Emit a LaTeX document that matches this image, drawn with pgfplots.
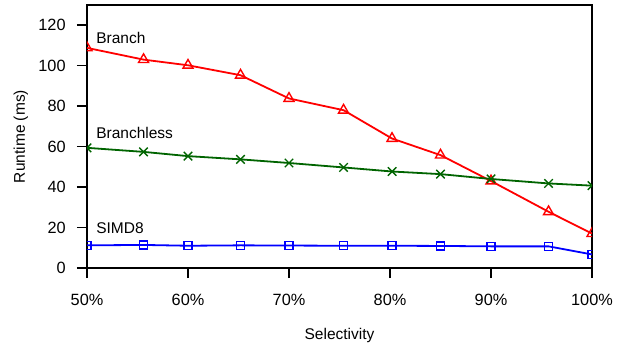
\documentclass[border=0pt]{standalone}
\usepackage{pgfplots}
\pgfplotsset{compat=1.18}
\usepackage{fontspec}
\setmainfont{Liberation Sans}
\definecolor{dgreen}{RGB}{0,100,0}
\begin{document}
\fontsize{15.5}{18}\selectfont
\begin{tikzpicture}
\useasboundingbox (-87pt,-80pt) rectangle (539pt,268pt);
\begin{axis}[
  at={(0,0)}, anchor=south west,
  scale only axis, width=505pt, height=263pt,
  xmin=50, xmax=100, ymin=0, ymax=130,
  xtick={50,60,70,80,90,100},
  xticklabels={50\%,60\%,70\%,80\%,90\%,100\%},
  ytick={0,20,40,60,80,100,120},
  tick align=outside, major tick length=10pt,
  xtick pos=bottom, ytick pos=left,
  axis line style={line width=1.6pt},
  every tick/.style={black, line width=1.6pt},
  /pgf/number format/assume math mode=true,
  ticklabel style={font=\fontsize{16.3}{18}\selectfont},
  xticklabel style={yshift=-11pt},
  yticklabel style={xshift=-6pt},
  xlabel={Selectivity}, ylabel={Runtime (ms)},
  xlabel style={at={(axis description cs:0.5,-0.255)}, anchor=center},
  ylabel style={at={(axis description cs:-0.131,0.5)}, anchor=center, rotate=0},
  clip marker paths=true,
  every axis plot/.append style={line width=1.8pt},
]
\addplot[red, mark=triangle, mark size=5.8pt, mark options={line width=1.4pt}] coordinates {
(50,108.8) (55.6,103) (60,100.2) (65.2,95.3) (70,83.8) (75.4,78) (80.2,64) (85,55.8) (90,43) (95.7,27.8) (100,17)};
\addplot[dgreen, mark=x, mark size=6pt, mark options={line width=1.4pt}] coordinates {
(50,59.4) (55.6,57.4) (60,55.3) (65.2,53.7) (70,51.9) (75.4,49.7) (80.2,47.7) (85,46.4) (90,44) (95.7,41.8) (100,40.7)};
\addplot[blue, mark=square, mark size=4pt, mark options={line width=1.4pt}] coordinates {
(50,11.2) (55.6,11.4) (60,11.0) (65.2,11.2) (70,11.1) (75.4,11.0) (80.2,11.0) (85,10.9) (90,10.7) (95.7,10.7) (100,6.7)};
\node[anchor=base west, inner sep=0pt] at (axis cs:50.9,110.9) {Branch};
\node[anchor=base west, inner sep=0pt] at (axis cs:50.9,64) {Branchless};
\node[anchor=base west, inner sep=0pt] at (axis cs:50.9,17.1) {SIMD8};
\end{axis}
\end{tikzpicture}
\end{document}
